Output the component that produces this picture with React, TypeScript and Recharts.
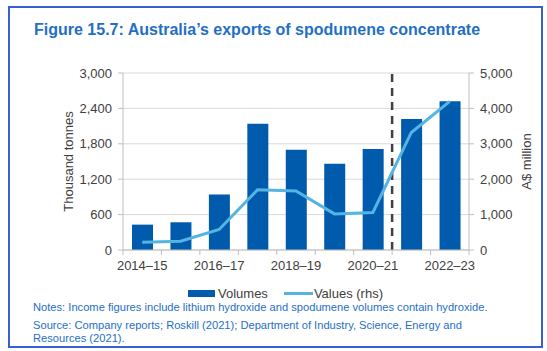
import React from 'react'
import { ComposedChart, Bar, Line, XAxis, YAxis, CartesianGrid, ReferenceLine } from 'recharts'

const YEARS = ['2014–15', '2015–16', '2016–17', '2017–18', '2018–19', '2019–20', '2020–21', '2021–22', '2022–23']
const VOLUMES = [430, 470, 940, 2140, 1700, 1460, 1710, 2220, 2520]
const VALUES = [220, 250, 580, 1700, 1670, 1020, 1060, 3320, 4200]
const LEFT_TICKS = [0, 600, 1200, 1800, 2400, 3000]
const RIGHT_TICKS = [0, 1000, 2000, 3000, 4000, 5000]
const FORECAST_FROM = 7 // dashed line sits before 2021–22

const FONT = '"Liberation Sans", Arial, sans-serif'
const BAR_COLOR = '#005bac'
const LINE_COLOR = '#55b4e2'
const AXIS_COLOR = '#bfbfbf'
const TEXT_COLOR = '#404040'
const BLUE_TEXT = '#1f6fc5'
const TICK_SIZE = 5
const TICK_MARGIN = 6

const data = YEARS.map((year, i) => ({ pos: i + 0.5, year, volume: VOLUMES[i], value: VALUES[i] }))
// ticks on category edges (whole numbers), labels on the centres (halves)
const xTicks = Array.from({ length: YEARS.length * 2 + 1 }, (_, i) => i / 2)

const XTick = (props: any) => {
  const { x, y, payload } = props
  const v = payload.value
  if (Number.isInteger(v)) {
    return <line x1={x} x2={x} y1={y - TICK_SIZE - TICK_MARGIN} y2={y - TICK_MARGIN} stroke={AXIS_COLOR} />
  }
  const i = Math.floor(v)
  if (i % 2) return <g />
  return (
    <text x={x} y={y} dy="0.71em" textAnchor="middle" fill={TEXT_COLOR} fontSize={13} fontFamily={FONT}>
      {YEARS[i]}
    </text>
  )
}

const AxisTitle = (props: any) => {
  const { viewBox, text, dx } = props
  const cx = viewBox.x + dx
  const cy = viewBox.y + viewBox.height / 2
  return (
    <text x={cx} y={cy} transform={`rotate(-90 ${cx} ${cy})`} textAnchor="middle" dominantBaseline="central"
      fill={TEXT_COLOR} fontSize={13} fontFamily={FONT}>
      {text}
    </text>
  )
}

export default function App() {
  const tickStyle = { fill: TEXT_COLOR, fontSize: 13, fontFamily: FONT }
  return (
    <div style={{ position: 'absolute', left: 0, top: 0, width: 547, height: 351, background: '#fff', fontFamily: FONT }}>
      <div style={{ position: 'absolute', left: 8, top: 6, width: 535, height: 342, border: '2px solid #3a5fd0', boxSizing: 'border-box' }} />
      <div style={{ position: 'absolute', left: 34, top: 21, fontSize: 16, fontWeight: 'bold', color: BLUE_TEXT, whiteSpace: 'nowrap' }}>
        Figure 15.7: Australia’s exports of spodumene concentrate
      </div>

      <div style={{ position: 'absolute', left: 0, top: 0 }}>
        <ComposedChart width={547} height={285} data={data} margin={{ top: 73, right: 0, bottom: 0, left: 0 }}>
          <CartesianGrid yAxisId="left" vertical={false} stroke="#d9d9d9" />
          <XAxis dataKey="pos" type="number" domain={[0, YEARS.length]} ticks={xTicks} interval={0}
            height={35} tickSize={TICK_SIZE} tickMargin={TICK_MARGIN} tickLine={false}
            axisLine={{ stroke: AXIS_COLOR }} tick={<XTick />} />
          <YAxis yAxisId="left" domain={[0, 3000]} ticks={LEFT_TICKS} width={123}
            tickFormatter={(v: number) => v.toLocaleString('en-US')}
            tickSize={TICK_SIZE} tickMargin={TICK_MARGIN} tick={tickStyle}
            axisLine={{ stroke: AXIS_COLOR }} tickLine={{ stroke: AXIS_COLOR }}
            label={<AxisTitle text="Thousand tonnes" dx={68} />} />
          <YAxis yAxisId="right" orientation="right" domain={[0, 5000]} ticks={RIGHT_TICKS} width={78}
            tickFormatter={(v: number) => v.toLocaleString('en-US')}
            tickSize={TICK_SIZE} tickMargin={TICK_MARGIN} tick={{ ...tickStyle, textAnchor: 'start' }}
            axisLine={{ stroke: AXIS_COLOR }} tickLine={{ stroke: AXIS_COLOR }}
            label={<AxisTitle text="A$ million" dx={57} />} />
          <Bar yAxisId="left" dataKey="volume" name="Volumes" fill={BAR_COLOR} barSize={21} isAnimationActive={false} />
          <ReferenceLine yAxisId="left" x={FORECAST_FROM} stroke="#404040" strokeWidth={2.5} strokeDasharray="8 6" />
          <Line yAxisId="right" dataKey="value" name="Values (rhs)" type="linear" stroke={LINE_COLOR} strokeWidth={3}
            dot={false} isAnimationActive={false} />
        </ComposedChart>
      </div>

      <div style={{ position: 'absolute', left: 188, top: 286, display: 'flex', alignItems: 'center', fontSize: 13, color: TEXT_COLOR, whiteSpace: 'nowrap' }}>
        <span style={{ display: 'inline-block', width: 27, height: 7, background: BAR_COLOR, marginRight: 3 }} />
        <span>Volumes</span>
        <span style={{ display: 'inline-block', width: 29, height: 3, background: LINE_COLOR, marginLeft: 16, marginRight: 1 }} />
        <span>Values (rhs)</span>
      </div>

      <div style={{ position: 'absolute', left: 33, top: 301, width: 500, fontSize: 11.15, color: BLUE_TEXT, lineHeight: '13px' }}>
        <div>Notes: Income figures include lithium hydroxide and spodumene volumes contain hydroxide.</div>
        <div style={{ marginTop: 5 }}>
          Source: Company reports; Roskill (2021); Department of Industry, Science, Energy and<br />Resources (2021).
        </div>
      </div>
    </div>
  )
}
